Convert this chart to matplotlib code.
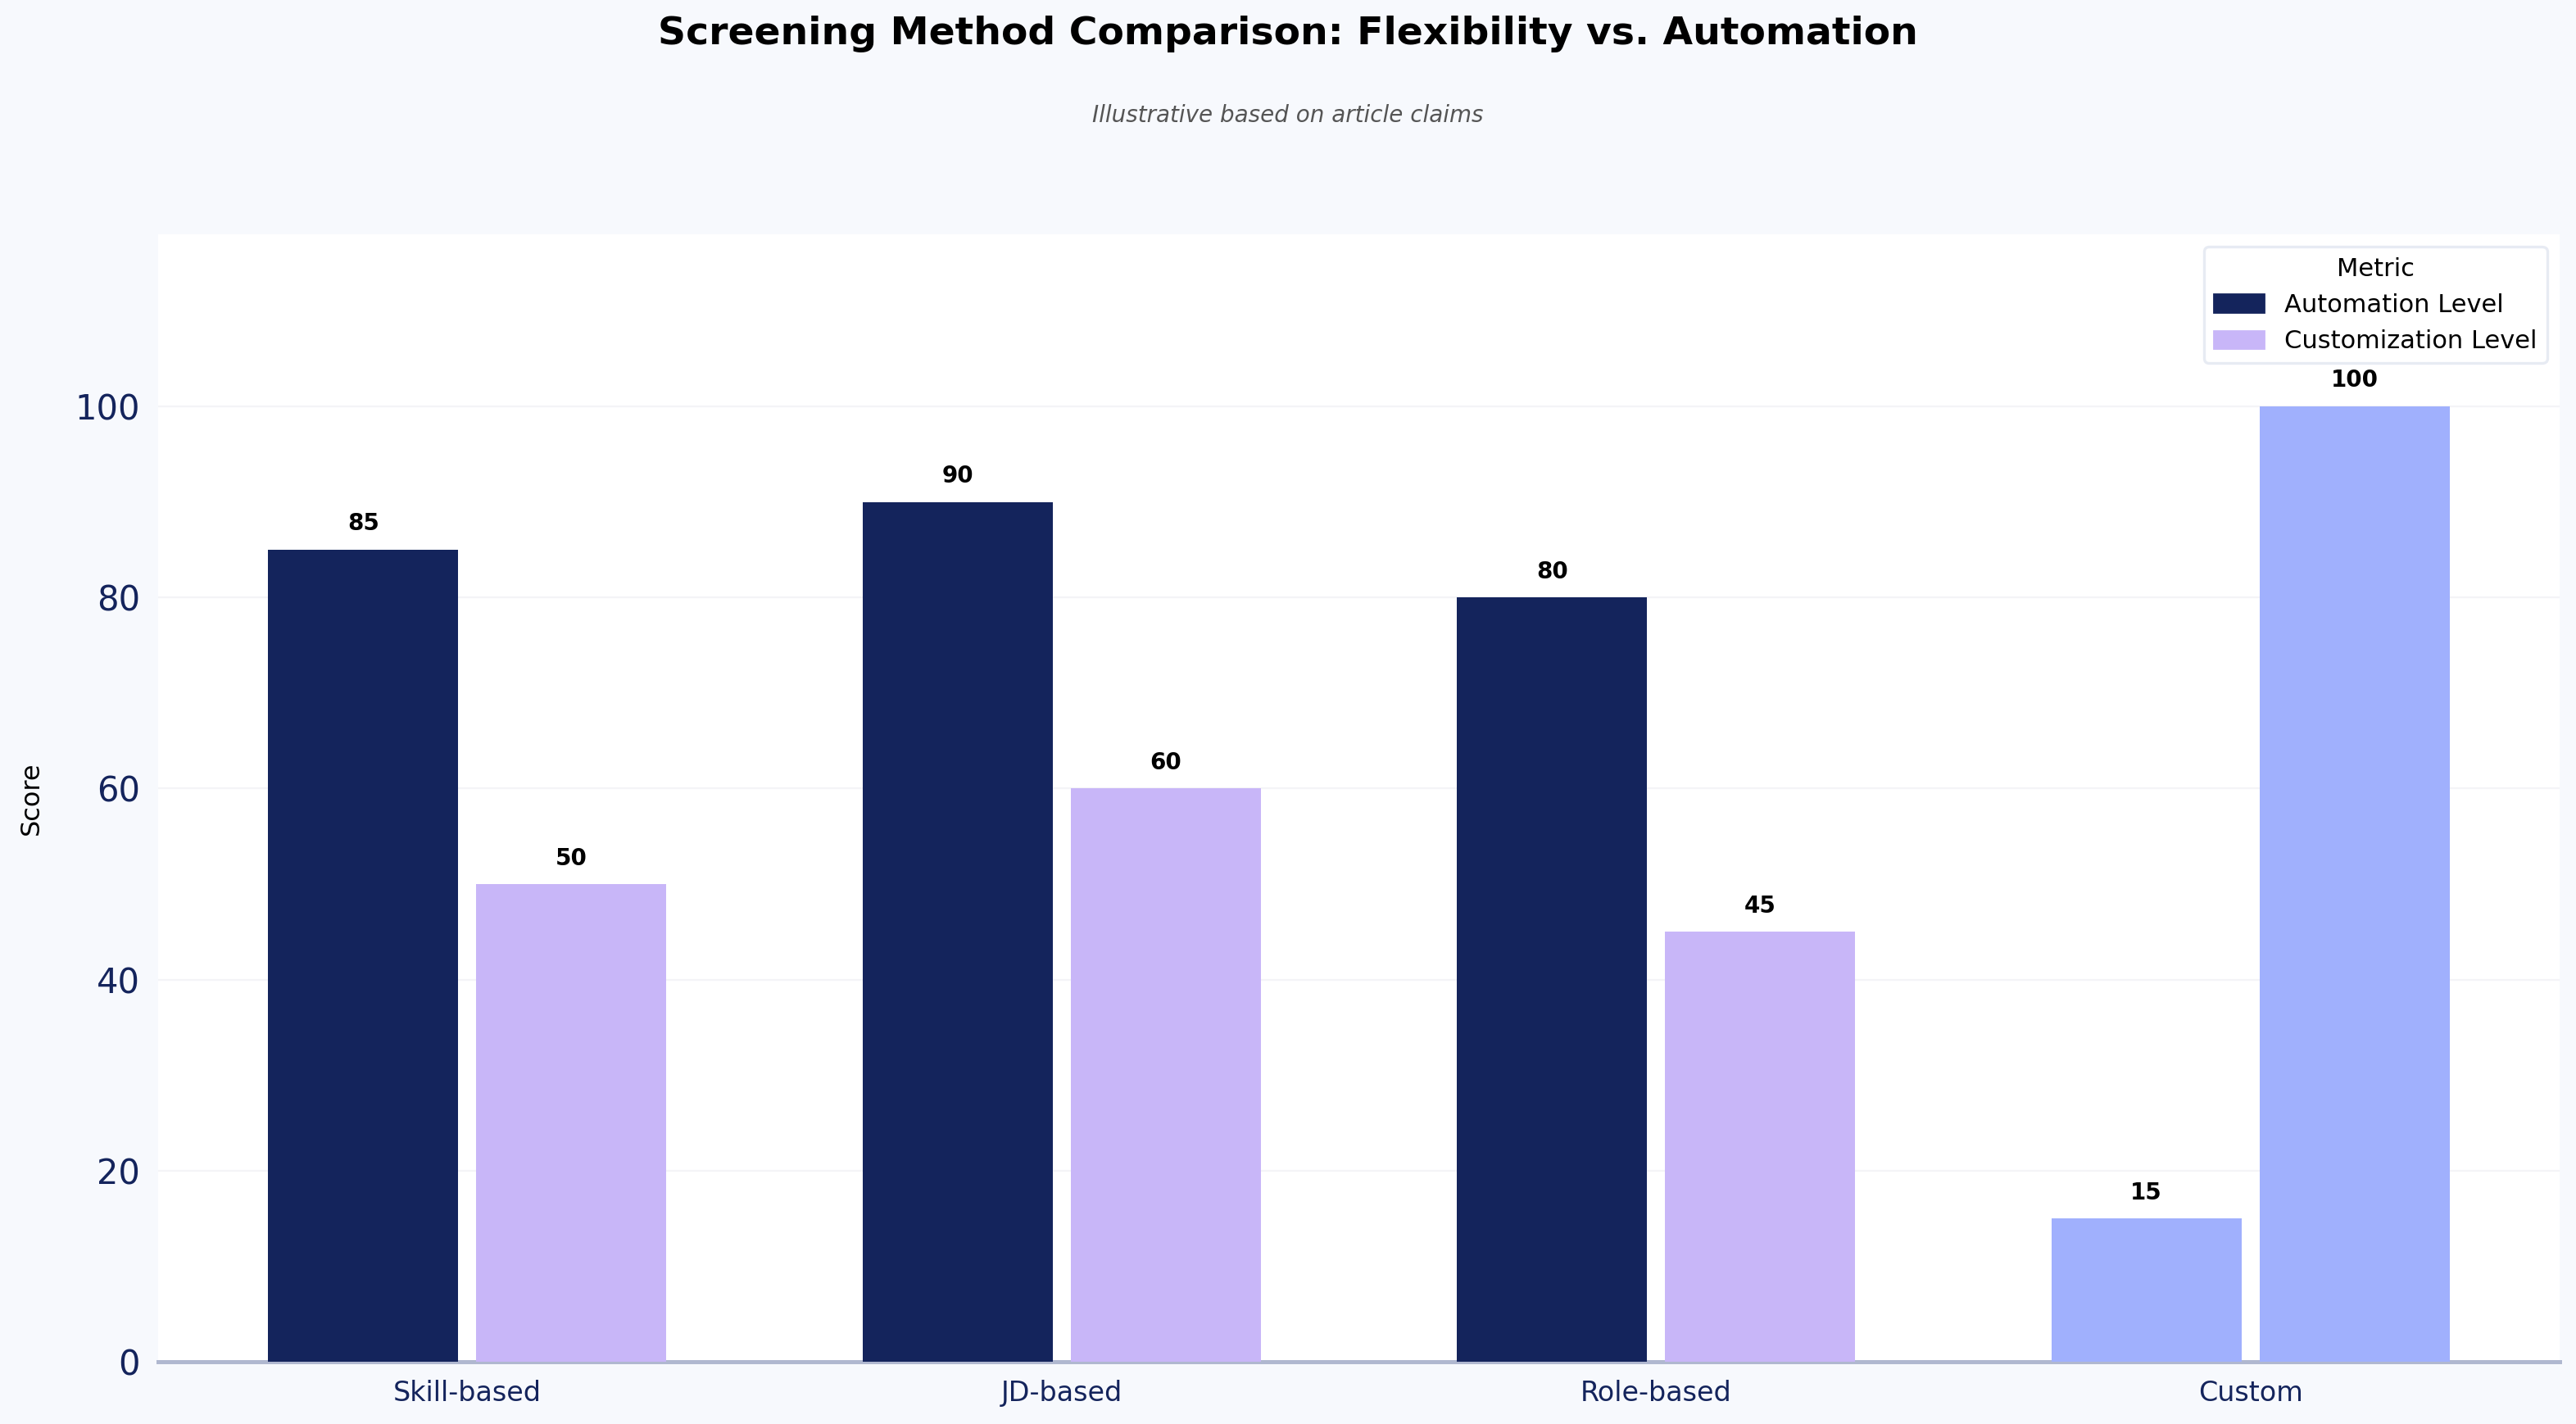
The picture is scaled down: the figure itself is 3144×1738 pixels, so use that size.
import matplotlib
matplotlib.use("Agg")
import matplotlib.pyplot as plt
from matplotlib.patches import Patch
import numpy as np

methods = ["Skill-based", "JD-based", "Role-based", "Custom"]
automation = [85, 90, 80, 15]
customization = [50, 60, 45, 100]

navy = "#14245c"
lavender = "#c8b6f8"
highlight = "#a0b0fd"

fig = plt.figure(figsize=(15.72, 8.69), dpi=200, facecolor="#f7f9fd")
ax = fig.add_axes([0.0614, 0.0437, 0.9322, 0.7917])
ax.set_facecolor("white")

x = np.arange(len(methods))
w = 0.32
off = 0.175
auto_colors = [navy if m != "Custom" else highlight for m in methods]
cust_colors = [lavender if m != "Custom" else highlight for m in methods]
b1 = ax.bar(x - off, automation, w, color=auto_colors, zorder=3)
b2 = ax.bar(x + off, customization, w, color=cust_colors, zorder=3)

for bars, vals in ((b1, automation), (b2, customization)):
    for r, v in zip(bars, vals):
        ax.text(r.get_x() + r.get_width() / 2, v + 1.5, str(v), ha="center", va="bottom",
                fontsize=10, fontweight="bold", color="black", zorder=4)

ax.set_xlim(-0.52, 3.52)
ax.set_ylim(0, 118)
ax.set_yticks([0, 20, 40, 60, 80, 100])
ax.set_xticks(x)
ax.set_xticklabels(methods, fontsize=12, color=navy)
ax.tick_params(axis="y", labelsize=15, colors=navy, length=0, pad=8)
ax.tick_params(axis="x", length=0, pad=8)
ax.set_ylabel("Score", fontsize=11.5, color="black")
ax.yaxis.set_label_coords(-0.0474, 0.5)
ax.grid(axis="y", color="#f4f4f7", linewidth=0.8, zorder=0)
for s in ("top", "right", "left"):
    ax.spines[s].set_visible(False)
ax.spines["bottom"].set_color("#b0b8d0")
ax.spines["bottom"].set_linewidth(1.8)

handles = [Patch(color=navy, label="Automation Level"), Patch(color=lavender, label="Customization Level")]
leg = ax.legend(handles=handles, title="Metric", loc="upper right", fontsize=11, title_fontsize=11,
                frameon=True, fancybox=True, borderaxespad=0.5)
leg.get_frame().set_edgecolor("#e2e6f0")
leg.get_frame().set_linewidth(1.2)

fig.text(0.5, 0.976, "Screening Method Comparison: Flexibility vs. Automation", ha="center", va="center",
         fontsize=17, fontweight="bold", color="black")
fig.text(0.5, 0.919, "Illustrative based on article claims", ha="center", va="center",
         fontsize=10, style="italic", color="#555555")

fig.savefig("out.png", dpi=200, facecolor=fig.get_facecolor())
